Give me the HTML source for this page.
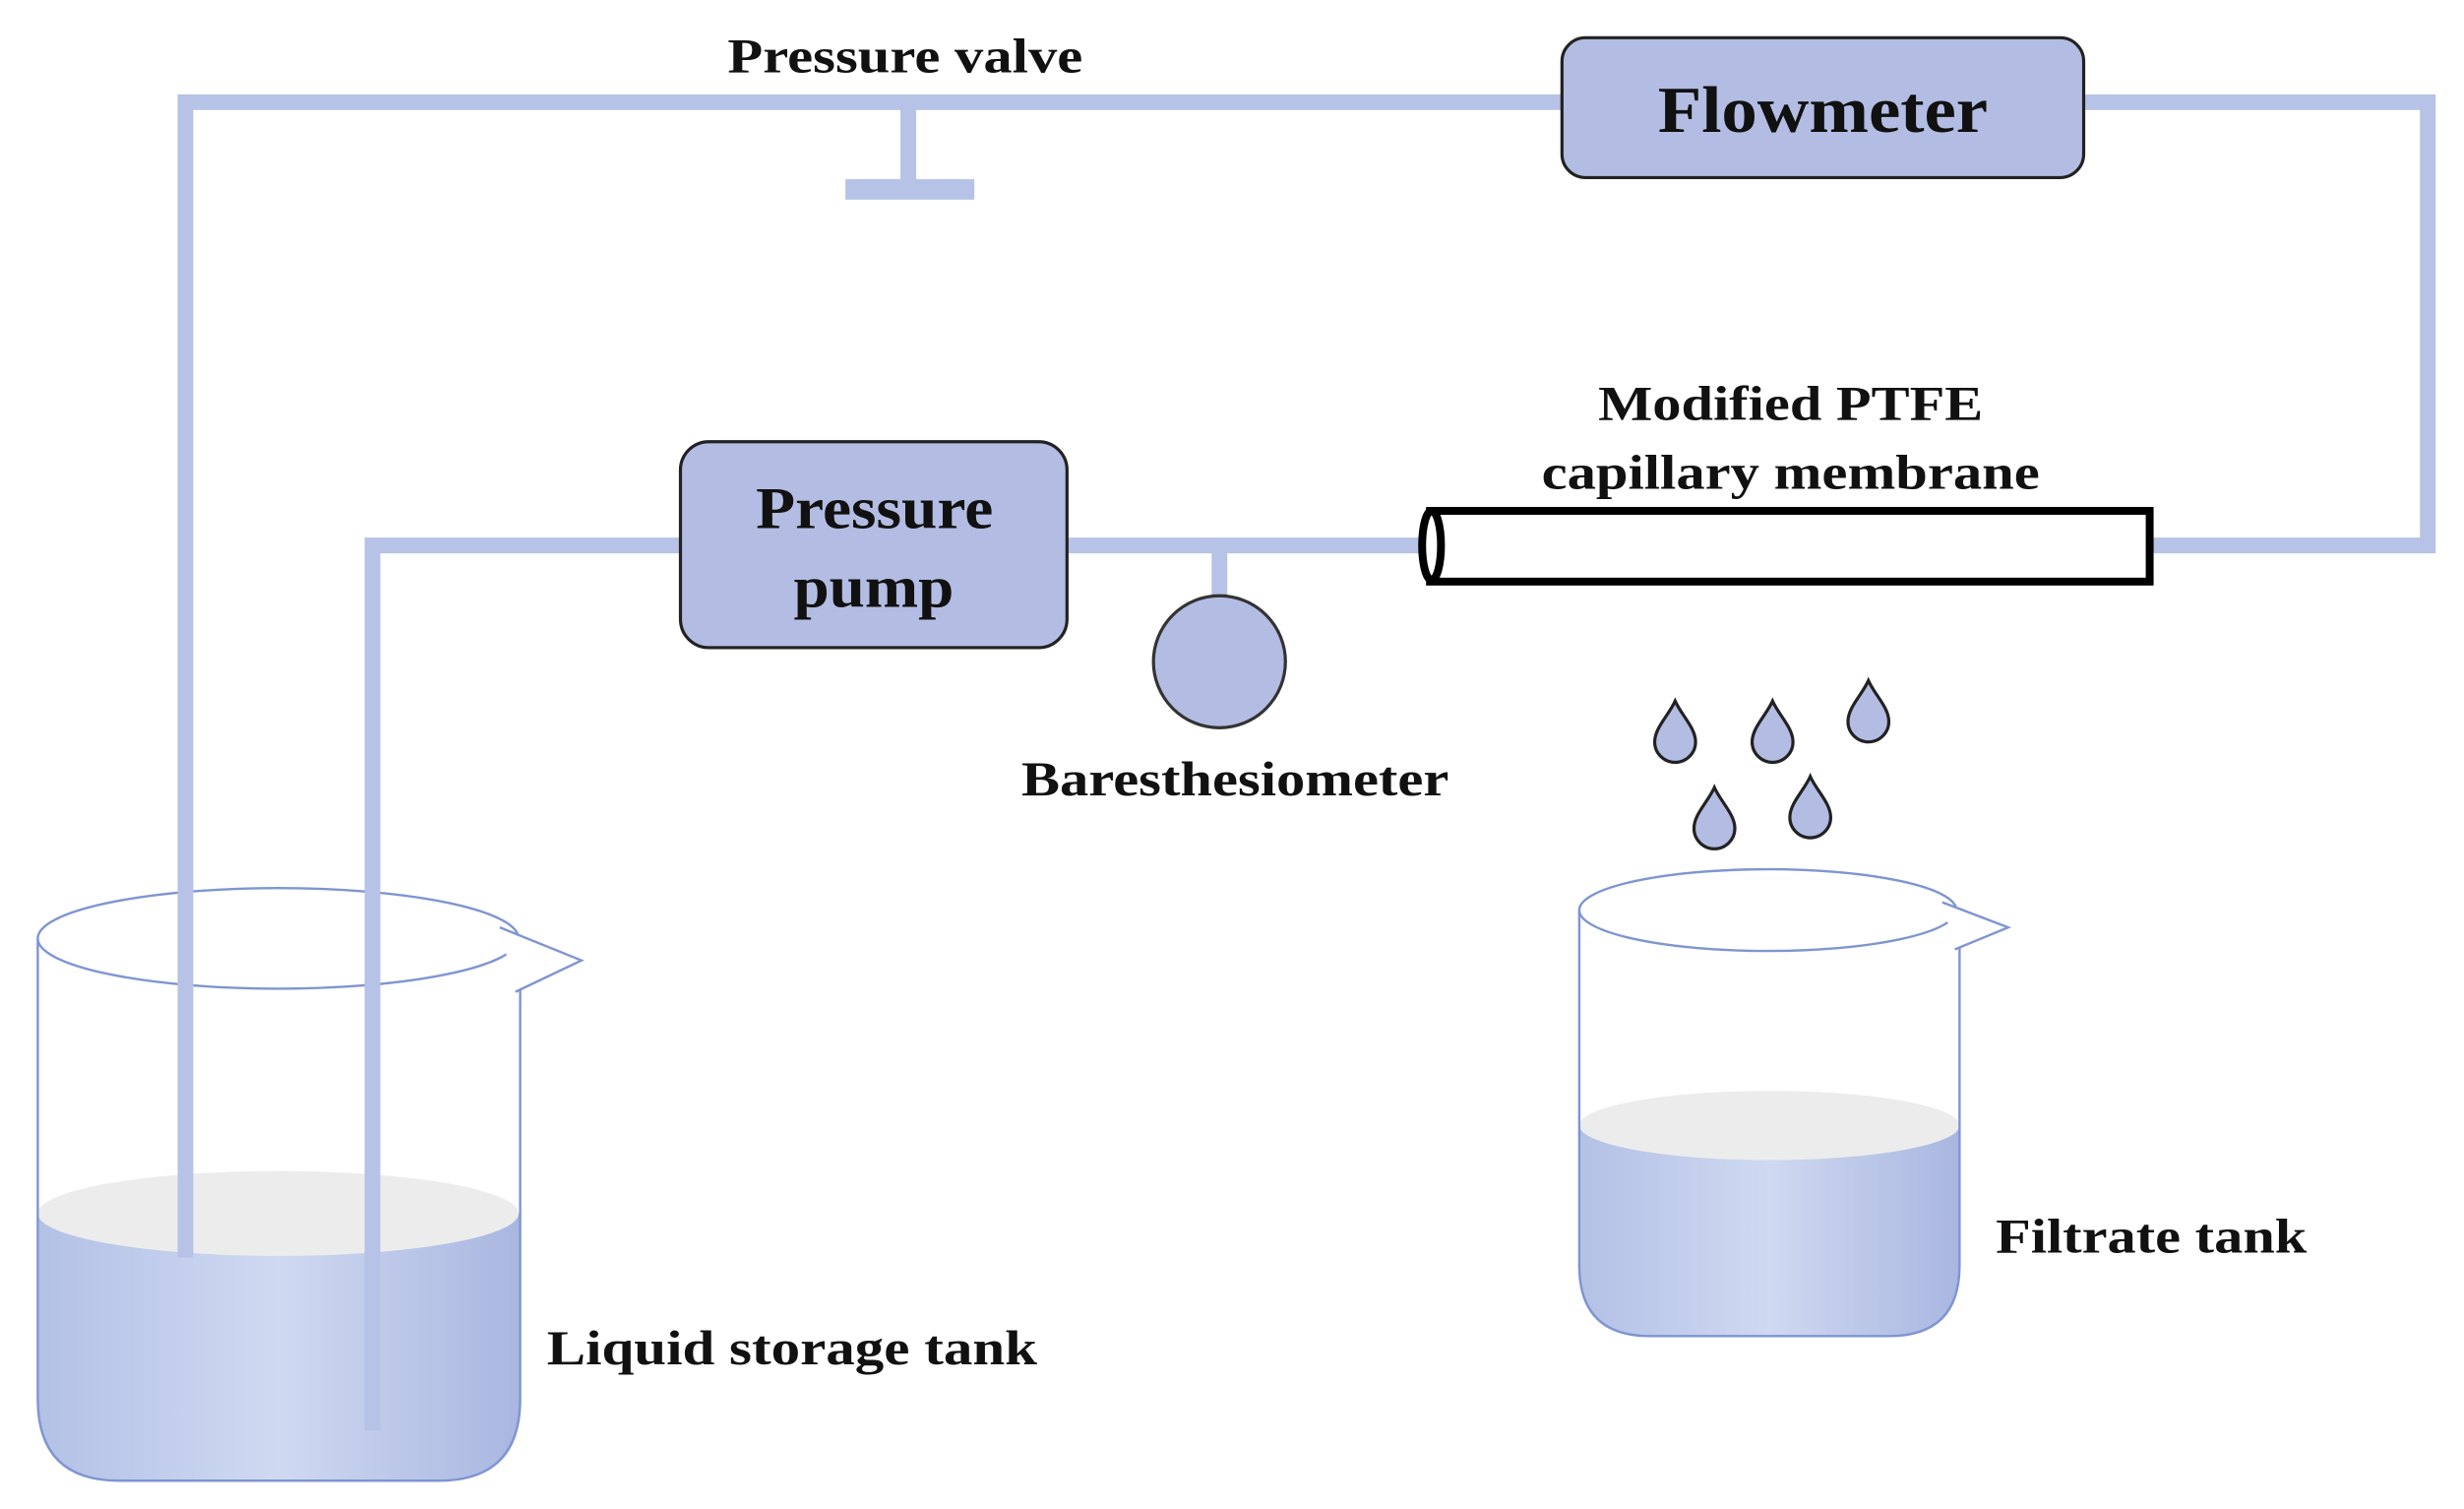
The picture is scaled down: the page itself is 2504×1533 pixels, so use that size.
<!DOCTYPE html>
<html><head><meta charset="utf-8"><style>
html,body{margin:0;padding:0;background:#fff;}
svg{display:block;}
text{font-family:"Liberation Serif",serif;font-weight:bold;fill:#111;}
</style></head><body>
<svg width="2504" height="1533" viewBox="0 0 1568 960" xmlns="http://www.w3.org/2000/svg">
<defs>
<linearGradient id="liq" x1="0" x2="1" y1="0" y2="0">
<stop offset="0" stop-color="#b3c1e6"/><stop offset="0.5" stop-color="#cfd9f1"/><stop offset="1" stop-color="#a9b6e0"/>
</linearGradient>
</defs>
<!-- left beaker liquid -->
<path d="M24 772 L24 890 Q24 942 76 942 L279 942 Q331 942 331 890 L331 772 Z" fill="url(#liq)"/>
<ellipse cx="177" cy="772" rx="153" ry="27" fill="#ececec"/>
<path d="M24 597 L24 890 Q24 942 76 942 L279 942 Q331 942 331 890 L331 620" fill="none" stroke="#7f95d2" stroke-width="1.5"/>
<ellipse cx="177" cy="597" rx="153" ry="32" fill="none" stroke="#7f95d2" stroke-width="1.5"/>
<path d="M318 590 L370 611 L328 631" fill="#fff" stroke="#7f95d2" stroke-width="1.5"/>
<!-- right beaker liquid -->
<path d="M1005 716 L1005 805 Q1005 850 1050 850 L1202 850 Q1247 850 1247 805 L1247 716 Z" fill="url(#liq)"/>
<ellipse cx="1126" cy="716" rx="121" ry="22" fill="#ececec"/>
<path d="M1005 579 L1005 805 Q1005 850 1050 850 L1202 850 Q1247 850 1247 805 L1247 595" fill="none" stroke="#7f95d2" stroke-width="1.5"/>
<ellipse cx="1125" cy="579" rx="120" ry="26" fill="none" stroke="#7f95d2" stroke-width="1.5"/>
<path d="M1236 574 L1278 590 L1244 604" fill="#fff" stroke="#7f95d2" stroke-width="1.5"/>
<!-- pipes -->
<g stroke="#b6c2e6" stroke-width="10" fill="none">
<path d="M118 800 L118 65 L995 65"/>
<path d="M1325 65 L1545 65 L1545 347 L1370 347"/>
<path d="M237 910 L237 347 L433 347"/>
<path d="M679 347 L905 347"/>
<path d="M578 65 L578 118"/>
<path d="M776 347 L776 382"/>
</g>
<rect x="538" y="114" width="82" height="13" fill="#b6c2e6"/>
<!-- flowmeter -->
<rect x="994" y="24" width="332" height="89" rx="15" fill="#b3bde3" stroke="#222" stroke-width="2"/>
<text x="1055" y="84" font-size="42" textLength="210" lengthAdjust="spacingAndGlyphs">Flowmeter</text>
<!-- pump -->
<rect x="433" y="281" width="246" height="131" rx="18" fill="#b3bde3" stroke="#222" stroke-width="2"/>
<text x="481" y="336" font-size="38" textLength="151" lengthAdjust="spacingAndGlyphs">Pressure</text>
<text x="505" y="386" font-size="38" textLength="102" lengthAdjust="spacingAndGlyphs">pump</text>
<!-- baresthesiometer -->
<circle cx="776" cy="421" r="42" fill="#b3bde3" stroke="#333" stroke-width="2"/>
<text x="650" y="506" font-size="31" textLength="272" lengthAdjust="spacingAndGlyphs">Baresthesiometer</text>
<!-- membrane -->
<rect x="910" y="325" width="458" height="45" fill="#fff" stroke="#000" stroke-width="5"/>
<ellipse cx="911" cy="347" rx="6" ry="22" fill="#fff" stroke="#000" stroke-width="5"/>
<text x="1017" y="267" font-size="31" textLength="245" lengthAdjust="spacingAndGlyphs">Modified PTFE</text>
<text x="981" y="311" font-size="31" textLength="317" lengthAdjust="spacingAndGlyphs">capillary membrane</text>
<text x="463" y="46" font-size="31" textLength="226" lengthAdjust="spacingAndGlyphs">Pressure valve</text>
<!-- drops -->
<g fill="#b3bde3" stroke="#222" stroke-width="2">
<path transform="translate(1066,465)" d="M0 -19 C4 -10 13 -2 13 7 A13 13 0 0 1 -13 7 C-13 -2 -4 -10 0 -19 Z"/>
<path transform="translate(1128,465)" d="M0 -19 C4 -10 13 -2 13 7 A13 13 0 0 1 -13 7 C-13 -2 -4 -10 0 -19 Z"/>
<path transform="translate(1189,452)" d="M0 -19 C4 -10 13 -2 13 7 A13 13 0 0 1 -13 7 C-13 -2 -4 -10 0 -19 Z"/>
<path transform="translate(1091,520)" d="M0 -19 C4 -10 13 -2 13 7 A13 13 0 0 1 -13 7 C-13 -2 -4 -10 0 -19 Z"/>
<path transform="translate(1152,513)" d="M0 -19 C4 -10 13 -2 13 7 A13 13 0 0 1 -13 7 C-13 -2 -4 -10 0 -19 Z"/>
</g>
<text x="348" y="868" font-size="31" textLength="312" lengthAdjust="spacingAndGlyphs">Liquid storage tank</text>
<text x="1270" y="797" font-size="31" textLength="198" lengthAdjust="spacingAndGlyphs">Filtrate tank</text>
</svg>
</body></html>
